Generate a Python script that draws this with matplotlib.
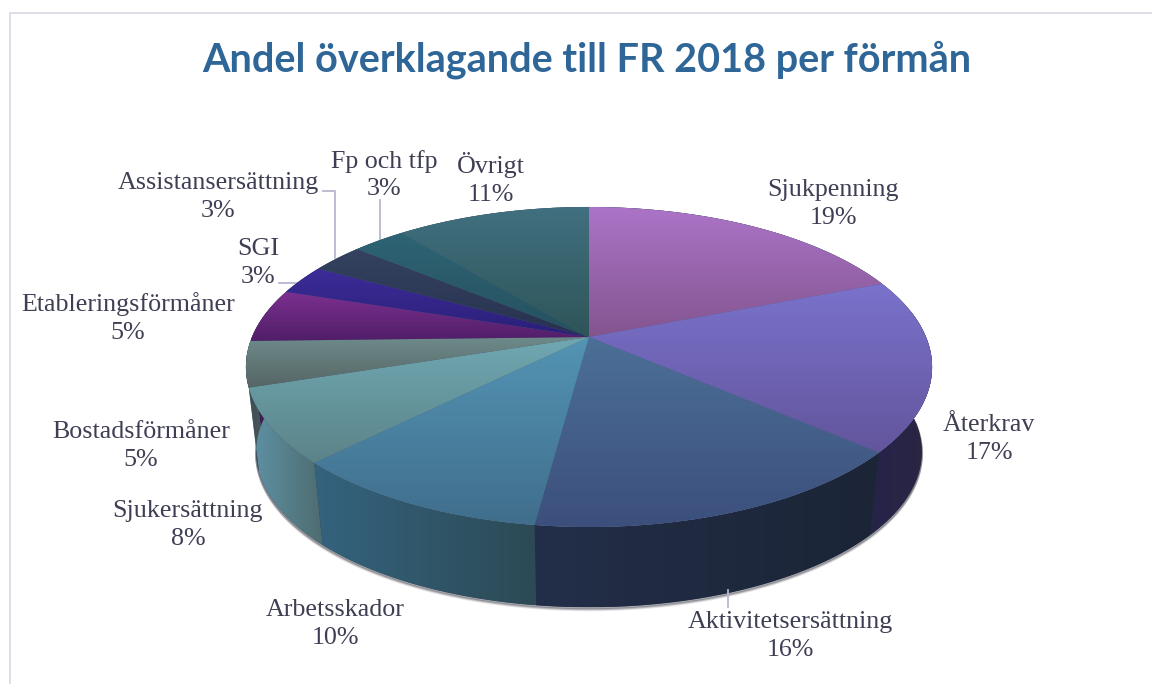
import numpy as np
import matplotlib
matplotlib.use('Agg')
import matplotlib.pyplot as plt
from matplotlib.colors import LinearSegmentedColormap
from matplotlib.patches import Polygon

# andelar i procent, medurs fran klockan 12 (avlasta fran bilden, etiketterna ar avrundade)
kategorier = ['Sjukpenning', 'Återkrav', 'Aktivitetsersättning', 'Arbetsskador', 'Sjukersättning',
              'Bostadsförmåner', 'Etableringsförmåner', 'SGI', 'Assistansersättning', 'Fp och tfp', 'Övrigt']
andelar = [19.0, 17.4, 15.7, 10.4, 7.5, 4.6, 5.4, 3.0, 3.0, 3.0, 11.0]

# farger for ovansida (ljus, mork) och sida (vanster, hoger)
topp_farger = [('#ac74c8', '#83558f'), ('#7a72cc', '#63559c'), ('#4c7097', '#3c4f7c'), ('#5494b4', '#406e8c'),
               ('#70a8b2', '#5b8388'), ('#6e8a8a', '#566565'), ('#7c3090', '#501e68'), ('#3c2c98', '#2a1f78'),
               ('#34425f', '#283250'), ('#2e6474', '#26505e'), ('#417080', '#2e5558')]
sid_farger = [('#2a2848', '#2a2848'), ('#26234a', '#2a2642'), ('#232e49', '#1b2536'), ('#34637e', '#2c4a55'),
              ('#5f93a6', '#4e6c70'), ('#3c4a4c', '#46585c'), ('#3c2050', '#3c2050'), ('#2a1f60', '#2a1f60'),
              ('#28304a', '#28304a'), ('#26505e', '#26505e'), ('#2e5558', '#2e5558')]

# placering av etiketter i bildens pixlar (mitten av texten)
etikett_x = [833, 989, 790, 335, 188, 141, 128, 258, 218, 384, 491]
etikett_y = [204, 439, 636, 624, 525, 446, 318, 263, 197, 175, 179]

# pajens geometri i pixlar
cx, cy_spets = 589, 337
A, a, k = 337.0, 154.4, 0.1875
cy_ellips = 367
sid_dy, sid_skala = 85, 0.97

TEXT = '#3e3e54'
LINJE = '#b9b6cf'


def topp(vinkel):
    # cirkeln i perspektiv, vinkel i grader medurs fran toppen
    t = np.radians(vinkel)
    X, Y = np.sin(t), np.cos(t)
    d = 1 + k * Y
    return cx + A * X / d, cy_spets - a * Y / d


def botten(vinkel):
    x, y = topp(vinkel)
    return cx + sid_skala * (x - cx), cy_ellips + sid_dy + sid_skala * (y - cy_ellips)


def gradient(ax, poly, c1, c2, zo, vertikal=True):
    xs, ys = poly[:, 0], poly[:, 1]
    cmap = LinearSegmentedColormap.from_list('g', [c1, c2])
    g = np.linspace(0, 1, 256)
    g = g.reshape(-1, 1) if vertikal else g.reshape(1, -1)
    im = ax.imshow(g, cmap=cmap, extent=[xs.min(), xs.max(), ys.max(), ys.min()],
                   aspect='auto', interpolation='bilinear', zorder=zo)
    patch = Polygon(poly, closed=True, transform=ax.transData, facecolor='none', edgecolor='none')
    ax.add_patch(patch)
    im.set_clip_path(patch)


fig = plt.figure(figsize=(11.52, 6.84), dpi=100)
ax = fig.add_axes([0, 0, 1, 1])
ax.axis('off')

vinklar = np.concatenate([[0], np.cumsum(andelar)]) * 360 / sum(andelar)

# ram
ax.plot([9.5, 9.5, 1152], [684, 12.5, 12.5], color='#dedde8', lw=1.4, zorder=1)

# skugga under pajen
t = np.linspace(90, 290, 300)
bx, by = botten(t)
for dy, al in [(1.0, 0.5), (2.0, 0.3), (3.0, 0.15)]:
    ax.plot(bx, by + dy, color='#555560', alpha=al, lw=1.5, zorder=2)

# mork bakgrund under sidorna, tacker skarvar
t = np.linspace(80, 290, 300)
x1, y1 = topp(t)
x2, y2 = botten(t)
ax.fill(np.r_[x1, x2[::-1]], np.r_[y1, y2[::-1]], color='#263044', lw=0, zorder=2.5)

# sidorna
for i in range(len(andelar)):
    t = np.linspace(vinklar[i], vinklar[i + 1], 60)
    x1, y1 = topp(t)
    x2, y2 = botten(t)
    poly = np.column_stack([np.r_[x1, x2[::-1]], np.r_[y1, y2[::-1]]])
    gradient(ax, poly, sid_farger[i][0], sid_farger[i][1], 3, vertikal=False)

# mork botten under ovansidan sa att skarvarna inte lyser igenom
t = np.linspace(0, 360, 300)
x1, y1 = topp(t)
ax.fill(x1, y1, color='#4a5f80', lw=0, zorder=3.5)

# ovansidan
for i in range(len(andelar)):
    t = np.linspace(vinklar[i], vinklar[i + 1], 80)
    x1, y1 = topp(t)
    poly = np.column_stack([np.r_[cx, x1], np.r_[cy_spets, y1]])
    gradient(ax, poly, topp_farger[i][0], topp_farger[i][1], 4)

# hjalplinjer
ax.plot([323, 335, 335], [190.5, 190.5, 258], color=LINJE, lw=1.3, zorder=2)
ax.plot([380, 380], [200, 240], color=LINJE, lw=1.3, zorder=2)
ax.plot([279, 298], [283, 283], color=LINJE, lw=1.3, zorder=2)
ax.plot([728, 728], [590, 607], color=LINJE, lw=1.3, zorder=5)

for namn, v, x, y in zip(kategorier, andelar, etikett_x, etikett_y):
    ax.text(x, y, f'{namn}\n{round(v)}%', ha='center', va='center', color=TEXT, fontsize=18.7,
            family='Liberation Serif', linespacing=1.3, zorder=6)

ax.text(587, 60, 'Andel överklagande till FR 2018 per förmån', ha='center', va='center',
        color='#2f6698', fontsize=28.5, family='Lato', fontweight='bold', zorder=6)

ax.set_xlim(0, 1152)
ax.set_ylim(684, 0)
fig.savefig('out.png', dpi=100)
